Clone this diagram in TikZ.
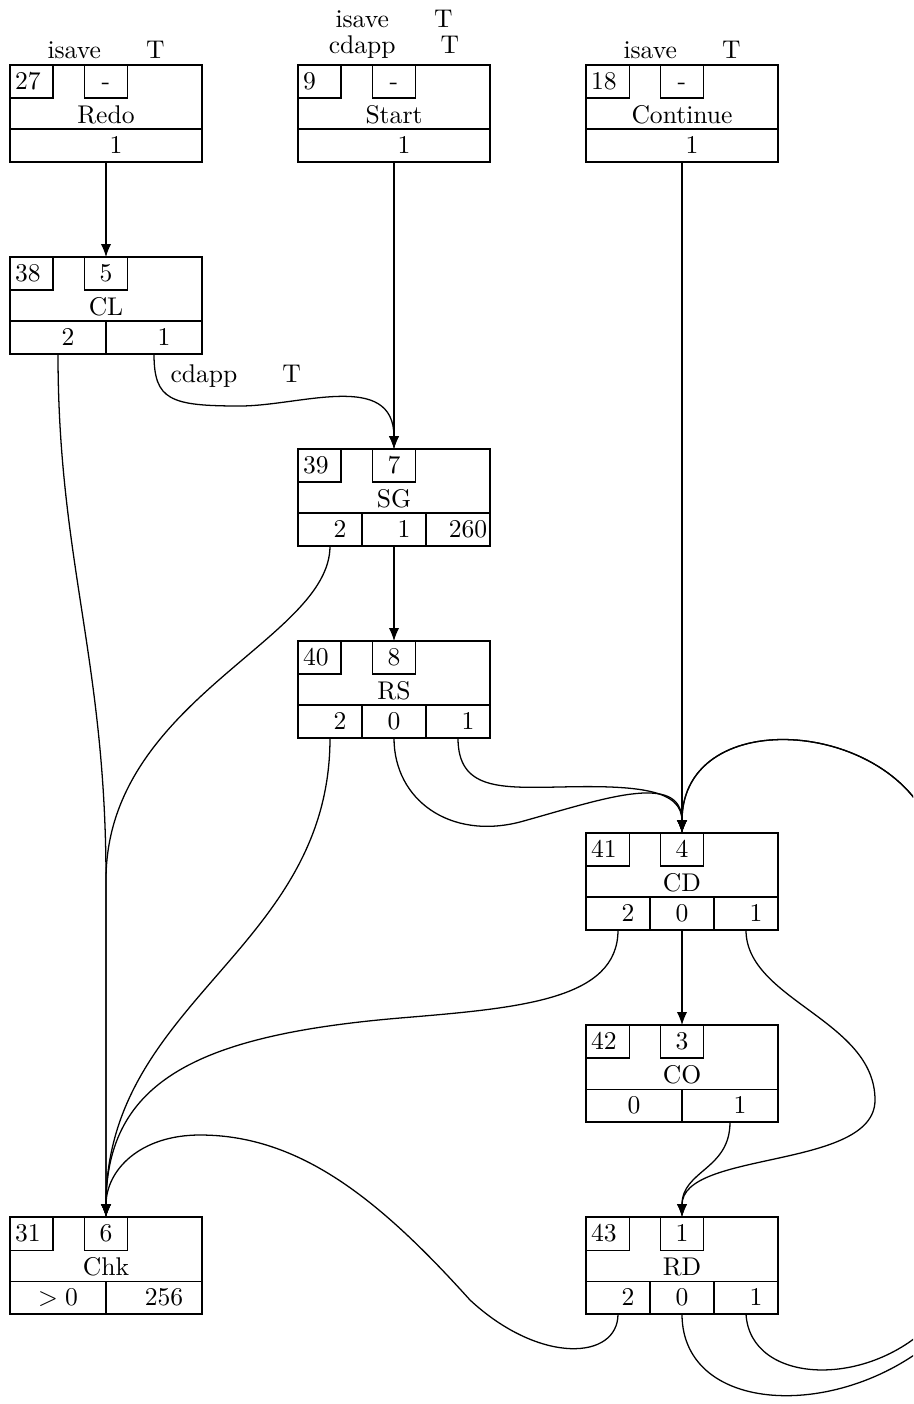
\documentclass[tikz,border=0pt]{standalone}
\usetikzlibrary{arrows.meta}
\newcommand{\pnum}[1]{$\phantom{-}#1$}
\newcommand{\mkblock}[6]{%
  \node[outerbox] (#1) at (#2,#3) {};
  \node[idbox] (#1-id) at (#2,#3) {#4};
  \node[numbox] (#1-num) at ({#2+96},#3) {#5};
  \node[midlabel] (#1-lab) at ({#2+96},{#3+58}) {#6};
}
\tikzset{
  outerbox/.style={draw, line width=0.9pt, minimum width=75pt, minimum height=37.9pt, inner sep=0pt, outer sep=0pt, anchor=north west},
  smallbox/.style={draw, line width=0.4pt, minimum height=12.89pt, inner sep=0pt, outer sep=0pt, text height=6.44pt, text depth=0pt},
  idbox/.style={smallbox, anchor=north west, text width=12.8pt, inner xsep=2pt, align=left},
  numbox/.style={smallbox, anchor=north, minimum width=16.8pt},
  midlabel/.style={inner sep=0pt, anchor=base},
  cell/.style={draw, line width=0.4pt, minimum height=12.89pt, inner sep=0pt, outer sep=0pt, text height=6.44pt, text depth=0pt, anchor=north west},
  toplab/.style={inner sep=0pt, anchor=base},
  conn/.style={draw, line width=0.5pt, -{Latex[length=5pt,width=4pt]}},
}
\begin{document}
\begin{tikzpicture}[x=0.390625pt,y=-0.390625pt]
\useasboundingbox (0,0) rectangle (913,1404);
\clip (0,0) rectangle (913,1404);

% blocks
\mkblock{redo}{10}{65}{27}{-}{Redo}
\node[cell, minimum width=75pt] (redo-c1) at (10,129) {\pnum{1}};

\mkblock{start}{298}{65}{9}{-}{Start}
\node[cell, minimum width=75pt] (start-c1) at (298,129) {\pnum{1}};

\mkblock{cont}{586}{65}{18}{-}{Continue}
\node[cell, minimum width=75pt] (cont-c1) at (586,129) {\pnum{1}};

\mkblock{cl}{10}{257}{38}{5}{CL}
\node[cell, minimum width=37.5pt] (cl-c1) at (10,321) {\pnum{2}};
\node[cell, minimum width=37.5pt] (cl-c2) at (106,321) {\pnum{1}};

\mkblock{sg}{298}{449}{39}{7}{SG}
\node[cell, minimum width=25pt] (sg-c1) at (298,513) {\pnum{2}};
\node[cell, minimum width=25pt] (sg-c2) at (362,513) {\pnum{1}};
\node[cell, minimum width=25pt] (sg-c3) at (426,513) {\pnum{260}};

\mkblock{rs}{298}{641}{40}{8}{RS}
\node[cell, minimum width=25pt] (rs-c1) at (298,705) {\pnum{2}};
\node[cell, minimum width=25pt] (rs-c2) at (362,705) {0};
\node[cell, minimum width=25pt] (rs-c3) at (426,705) {\pnum{1}};

\mkblock{cd}{586}{833}{41}{4}{CD}
\node[cell, minimum width=25pt] (cd-c1) at (586,897) {\pnum{2}};
\node[cell, minimum width=25pt] (cd-c2) at (650,897) {0};
\node[cell, minimum width=25pt] (cd-c3) at (714,897) {\pnum{1}};

\mkblock{co}{586}{1025}{42}{3}{CO}
\node[cell, minimum width=37.5pt] (co-c1) at (586,1089) {0};
\node[cell, minimum width=37.5pt] (co-c2) at (682,1089) {\pnum{1}};

\mkblock{chk}{10}{1217}{31}{6}{Chk}
\node[cell, minimum width=37.5pt] (chk-c1) at (10,1281) {$>0$};
\node[cell, minimum width=37.5pt] (chk-c2) at (106,1281) {\pnum{256}};

\mkblock{rd}{586}{1217}{43}{1}{RD}
\node[cell, minimum width=25pt] (rd-c1) at (586,1281) {\pnum{2}};
\node[cell, minimum width=25pt] (rd-c2) at (650,1281) {0};
\node[cell, minimum width=25pt] (rd-c3) at (714,1281) {\pnum{1}};

% labels above blocks
\node[toplab] (redo-top) at (106,58) {isave\hspace{17.6pt}T};
\node[toplab] (start-top1) at (394,27) {isave\hspace{17.6pt}T};
\node[toplab] (start-top2) at (394,53) {cdapp\hspace{17.6pt}T};
\node[toplab] (cont-top) at (682,58) {isave\hspace{17.6pt}T};

% connectors
\draw[conn] (redo-c1.south) -- (cl-num.north);
\draw[conn] (start-c1.south) -- (sg-num.north);
\draw[conn] (cont-c1.south) -- (cd-num.north);
\draw[conn] (cl-c2.south) .. controls (154,400) and (170,406) .. (240,406)
  .. controls (300,406) and (394,370) .. (sg-num.north);
\node[toplab, anchor=base west] (cl-elab) at (170,382) {cdapp\hspace{17.6pt}T};
\draw[conn] (cl-c1.south) .. controls (58,560) and (106,660) .. (106,880) -- (chk-num.north);
\draw[conn] (sg-c1.south) .. controls (330,640) and (106,700) .. (106,880) -- (chk-num.north);
\draw[conn] (sg-c2.south) -- (rs-num.north);
\draw[conn] (rs-c1.south) .. controls (330,950) and (106,1000) .. (chk-num.north);
\draw[conn] (rs-c2.south) .. controls (394,800) and (450,840) .. (520,822)
  .. controls (600,800) and (682,770) .. (cd-num.north);
\draw[conn] (rs-c3.south) .. controls (458,790) and (500,788) .. (560,787)
  .. controls (640,785) and (682,790) .. (cd-num.north);
\draw[conn] (cd-c1.south) .. controls (618,1000) and (520,1008) .. (400,1018)
  .. controls (200,1035) and (106,1080) .. (chk-num.north);
\draw[conn] (cd-c2.south) -- (co-num.north);
\draw[conn] (cd-c3.south) .. controls (746,1000) and (875,1020) .. (875,1100)
  .. controls (875,1170) and (682,1150) .. (rd-num.north);
\draw[conn] (co-c2.south) .. controls (730,1170) and (682,1170) .. (rd-num.north);
\draw[conn] (rd-c1.south) .. controls (618,1360) and (540,1365) .. (470,1300)
  .. controls (380,1200) and (300,1135) .. (200,1135)
  .. controls (140,1135) and (106,1170) .. (chk-num.north);
\draw[conn] (rd-c3.south) .. controls (750,1385) and (870,1390) .. (935,1320)
  -- (935,840) .. controls (905,720) and (682,700) .. (cd-num.north);
\draw[conn] (rd-c2.south) .. controls (682,1418) and (850,1422) .. (945,1330)
  -- (935,840) .. controls (905,720) and (682,700) .. (cd-num.north);
\end{tikzpicture}
\end{document}
